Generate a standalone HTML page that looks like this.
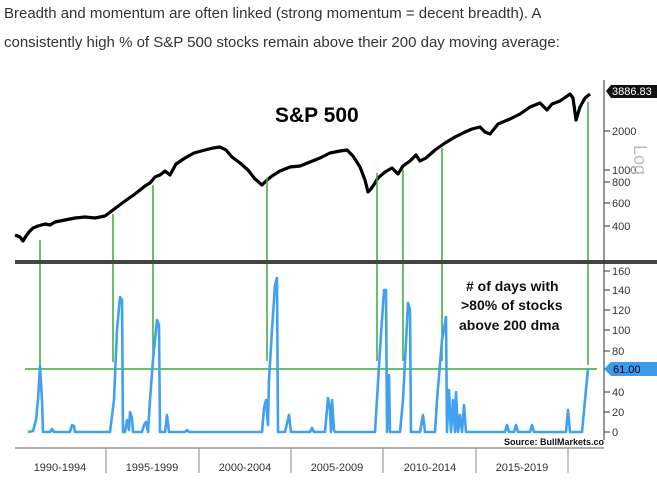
<!DOCTYPE html>
<html><head><meta charset="utf-8"><style>
body{margin:0;background:#fff;width:657px;height:484px;overflow:hidden}
</style></head><body>
<svg width="657" height="484" xmlns="http://www.w3.org/2000/svg" font-family="Liberation Sans, sans-serif">
<text x="4" y="18" font-size="15" fill="#333">Breadth and momentum are often linked (strong momentum = decent breadth). A</text>
<text x="4" y="47" font-size="15" fill="#333">consistently high % of S&amp;P 500 stocks remain above their 200 day moving average:</text>

<polyline fill="none" stroke="#000" stroke-width="3.2" stroke-linejoin="round" points="
15,235 20,237 23,241 26,236 29,232 33,228 38,226 45,224 50,225 55,222 65,220 75,218 85,217 95,218 105,216 113,210 125,201 135,194 145,186 150,183 155,177 160,175 165,171 170,175 176,164 185,158 194,153 205,150 213,148 220,147 226,150 232,157 240,163 248,170 255,179 262,185 266,181 272,176 280,171 290,167 300,166 310,162 320,158 330,153 340,151 347,150 353,156 360,167 365,180 368,192 370,190 373,186 378,178 385,172 392,168 398,174 403,166 410,161 416,155 420,161 426,158 435,150 445,143 455,137 465,132 472,129 480,127 485,132 490,134 498,124 510,119 520,114 530,107 540,103 547,110 552,104 560,101 570,94 573,98 576,120 580,107 585,98 590,94"/>

<text x="275" y="122" font-size="21" font-weight="bold" fill="#000">S&amp;P 500</text>

<g stroke="#3aaa3a" stroke-width="1.5">
<line x1="40" y1="240" x2="40" y2="366"/>
<line x1="113" y1="214" x2="113" y2="362"/>
<line x1="153" y1="185" x2="153" y2="362"/>
<line x1="267" y1="178" x2="267" y2="361"/>
<line x1="377" y1="173" x2="377" y2="361"/>
<line x1="403" y1="170" x2="403" y2="361"/>
<line x1="442" y1="148" x2="442" y2="361"/>
<line x1="588" y1="102" x2="588" y2="365"/>
<line x1="25" y1="369" x2="597" y2="369"/>
</g>

<rect x="15" y="260" width="585" height="4" fill="#444"/>
<rect x="600" y="260" width="57" height="4" fill="#444"/>

<line x1="604" y1="80" x2="604" y2="440" stroke="#333" stroke-width="1"/>
<g font-size="11" fill="#333">
<path d="M606,91 L611,85 L657,85 L657,98 L611,98 Z" fill="#111"/>
<text x="612" y="95" fill="#fff" font-size="11">3886.83</text>
<text x="612" y="135">2000</text>
<text x="612" y="174">1000</text>
<text x="612" y="186">800</text>
<text x="612" y="207">600</text>
<text x="612" y="230">400</text>
<text x="612" y="275">160</text>
<text x="612" y="294">140</text>
<text x="612" y="314">120</text>
<text x="612" y="334">100</text>
<text x="612" y="355">80</text>
<text x="612" y="396">40</text>
<text x="612" y="416">20</text>
<text x="612" y="436">0</text>
</g>
<g stroke="#333">
<line x1="604" y1="131" x2="610" y2="131"/><line x1="604" y1="170" x2="610" y2="170"/>
<line x1="604" y1="182" x2="610" y2="182"/><line x1="604" y1="203" x2="610" y2="203"/>
<line x1="604" y1="226" x2="610" y2="226"/>
<line x1="604" y1="271" x2="610" y2="271"/><line x1="604" y1="290" x2="610" y2="290"/>
<line x1="604" y1="310" x2="610" y2="310"/><line x1="604" y1="330" x2="610" y2="330"/>
<line x1="604" y1="351" x2="610" y2="351"/><line x1="604" y1="392" x2="610" y2="392"/>
<line x1="604" y1="412" x2="610" y2="412"/><line x1="604" y1="432" x2="610" y2="432"/>
</g>
<text x="0" y="0" font-size="18" fill="#bbb" transform="translate(634,145) rotate(90)">Log</text>
<path d="M604,369 L611,362 L657,362 L657,376 L611,376 Z" fill="#3d9be9"/>
<text x="613" y="373" font-size="11" fill="#002">61.00</text>

<polyline fill="none" stroke="#42a0f0" stroke-width="2.6" stroke-linejoin="round" points="
28,432 33,431 36,420 38,400 40,366 42,400 43,432 50,432 52,429 54,432 70,432 72,425 74,426 75,432 110,432 114,400 117,330 120,297 122,300 123,432 125,432 127,420 129,430 130,412 132,418 133,432 142,432 144,425 146,422 148,432 150,400 153,360 157,320 159,325 160,432 165,432 167,415 169,432 185,432 187,430 189,432 262,432 264,408 266,400 268,425 269,380 272,330 275,285 277,278 278,432 285,432 289,415 291,432 310,432 312,428 314,432 325,432 328,398 330,410 331,432 332,400 334,430 335,432 375,432 380,350 384,290 386,290 387,432 389,375 390,432 400,432 403,400 408,303 410,310 411,432 420,432 423,415 425,432 433,432 435,432 437,400 442,340 446,317 447,432 449,390 451,432 453,400 455,432 456,392 458,432 460,415 462,432 464,405 466,432 470,432 473,432 477,432 480,432 505,432 507,425 509,432 514,432 516,425 518,432 530,432 532,425 534,432 566,432 568,410 570,432 582,432 585,400 588,369"/>

<text x="466" y="291" font-size="14" font-weight="bold" fill="#111"># of days with</text>
<text x="461" y="310" font-size="14" font-weight="bold" fill="#111">&gt;80% of stocks</text>
<text x="459" y="330" font-size="14" font-weight="bold" fill="#111">above 200 dma</text>
<text x="504" y="445" font-size="9" font-weight="bold" fill="#111">Source: BullMarkets.co</text>

<line x1="15" y1="448" x2="604" y2="448" stroke="#666"/>
<g stroke="#888">
<line x1="106" y1="448" x2="106" y2="473"/><line x1="199" y1="448" x2="199" y2="473"/>
<line x1="291" y1="448" x2="291" y2="473"/><line x1="383" y1="448" x2="383" y2="473"/>
<line x1="476" y1="448" x2="476" y2="473"/><line x1="568" y1="448" x2="568" y2="473"/>
</g>
<g font-size="11" fill="#333" text-anchor="middle">
<text x="60" y="471">1990-1994</text><text x="152" y="471">1995-1999</text>
<text x="245" y="471">2000-2004</text><text x="337" y="471">2005-2009</text>
<text x="430" y="471">2010-2014</text><text x="522" y="471">2015-2019</text>
</g>
</svg>
</body></html>
